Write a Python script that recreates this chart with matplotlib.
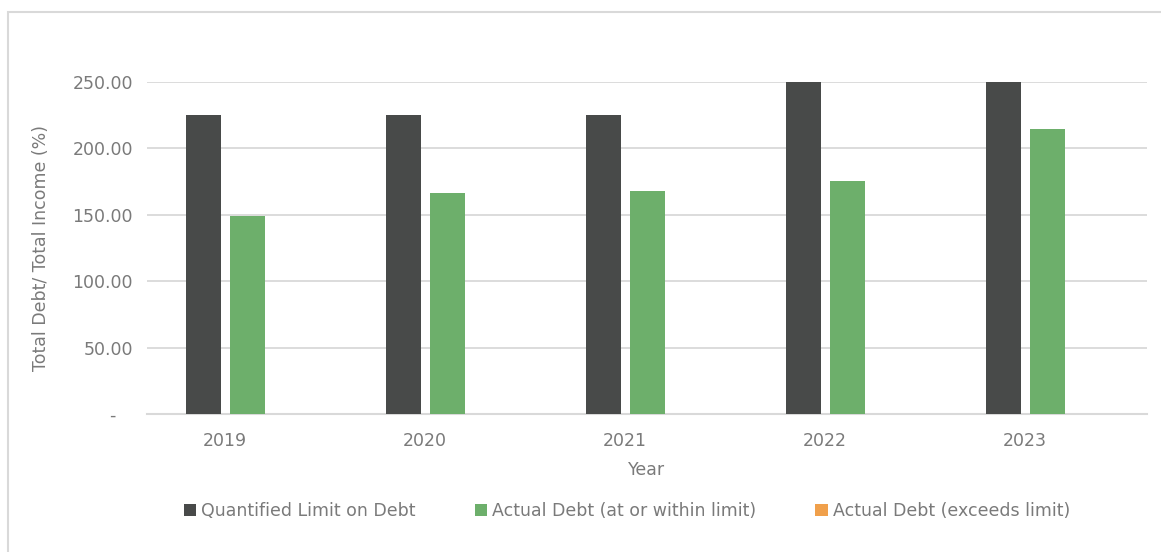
import numpy as np
import matplotlib
matplotlib.use("Agg")
import matplotlib.pyplot as plt
from matplotlib.patches import Patch, Rectangle

# chart data
years = ["2019", "2020", "2021", "2022", "2023"]
limit = [225.0, 225.0, 225.0, 250.0, 250.0]
actual_within = [149.0, 166.5, 168.0, 175.5, 214.5]
actual_exceeds = [0.0, 0.0, 0.0, 0.0, 0.0]

series_names = ["Quantified Limit on Debt", "Actual Debt (at or within limit)",
                "Actual Debt (exceeds limit)"]
colors = ["#484a49", "#6daf6b", "#f0a04b"]
yticks = [0, 50, 100, 150, 200, 250]

plt.rcParams['font.family'] = ['DejaVu Sans']
grey = "#7a7a7a"
fs = 12.5

fig = plt.figure(figsize=(11.61, 5.52), dpi=100)
ax = fig.add_axes([147/1161, 138/552, 1000/1161, 332/552])

x = np.arange(len(years))
w = 0.175
offsets = [-0.11, 0.11, 0.33]
for vals, off, c in zip([limit, actual_within, actual_exceeds], offsets, colors):
    ax.bar(x + off, vals, width=w, color=c, zorder=3)

ax.set_xlim(-0.39, len(years) - 0.39)
ax.set_ylim(0, 250)
ax.set_yticks(yticks)
ax.set_yticklabels(["-   " if v == 0 else f"{v:.2f}" for v in yticks])
ax.set_xticks(x)
ax.set_xticklabels(years)
ax.yaxis.grid(True, color="#d9d9d9", lw=1.3, zorder=0)
ax.tick_params(axis="both", length=0, labelsize=fs, colors=grey)
ax.tick_params(axis="x", pad=13)
ax.tick_params(axis="y", pad=10)
for s in ["top", "right", "left"]:
    ax.spines[s].set_visible(False)
ax.spines["bottom"].set_color("#d9d9d9")
ax.spines["bottom"].set_linewidth(1.5)

ax.set_xlabel("Year", fontsize=fs, color=grey, labelpad=8)
ax.set_ylabel("Total Debt/ Total Income (%)", fontsize=fs, color=grey, labelpad=16)

handles = [Patch(facecolor=c) for c in colors]
fig.legend(handles, series_names, loc="center", bbox_to_anchor=(627/1161, 1 - 511/552),
           ncol=3, frameon=False, fontsize=fs, labelcolor=grey,
           handlelength=0.7, handleheight=0.7, handletextpad=0.3, columnspacing=3.4)

fig.patches.append(Rectangle((8/1161, -0.1), 1.2, 1 - 12/552 + 0.1, transform=fig.transFigure,
                             fill=False, edgecolor="#d9d9d9", lw=1.5))

fig.savefig("out.png", dpi=100)
